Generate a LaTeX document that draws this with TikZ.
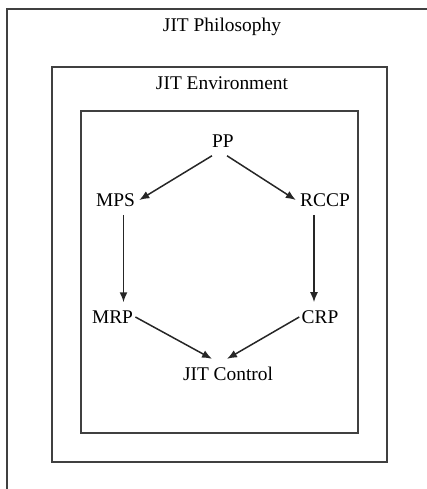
\documentclass[tikz,border=0pt]{standalone}
\usepackage{fontspec}
\setmainfont{Liberation Serif}
\usetikzlibrary{arrows.meta}

\begin{document}
\begin{tikzpicture}[x=0.5pt,y=-0.5pt,
  frame/.style={draw=black!75,line width=1.1pt},
  lbl/.style={inner xsep=1pt,inner ysep=4pt,text depth=0pt,font=\fontsize{9.7}{11}\selectfont},
  arr/.style={-{Latex[length=5pt,width=4pt]},draw=black!85,line width=0.75pt}]
\useasboundingbox (0,0) rectangle (427,489);
\clip (0,0) rectangle (427,489);

%Rahmen
\draw[frame] (7,9) rectangle (440,500);
\draw[frame] (52,67) rectangle (387,462);
\draw[frame] (81,111) rectangle (358,433);

%Beschriftung
\node[lbl] (phil) at (222,25) {JIT Philosophy};
\node[lbl] (env)  at (222,83) {JIT Environment};
\node[lbl] (PP)   at (223,141) {PP};
\node[lbl] (MPS)  at (115.5,200) {MPS};
\node[lbl] (RCCP) at (325,200) {RCCP};
\node[lbl] (MRP)  at (112.5,317) {MRP};
\node[lbl] (CRP)  at (320,317) {CRP};
\node[lbl] (JIT)  at (228,374) {JIT Control};

\draw[arr] ([xshift=-5.5pt]PP.south) -- ([xshift=1pt]MPS.east);
\draw[arr] ([xshift=2pt]PP.south) -- ([xshift=-1pt]RCCP.west);
\draw[arr] ([xshift=4pt]MPS.south) -- ([xshift=4pt]MPS.south |- MRP.north);
\draw[arr] ([xshift=-5.5pt]RCCP.south) -- ([xshift=-5.5pt]RCCP.south |- CRP.north);
\draw[arr] (MRP.east) -- ([xshift=-8pt]JIT.north);
\draw[arr] (CRP.west) -- ([xshift=-0.5pt]JIT.north);
\end{tikzpicture}
\end{document}
